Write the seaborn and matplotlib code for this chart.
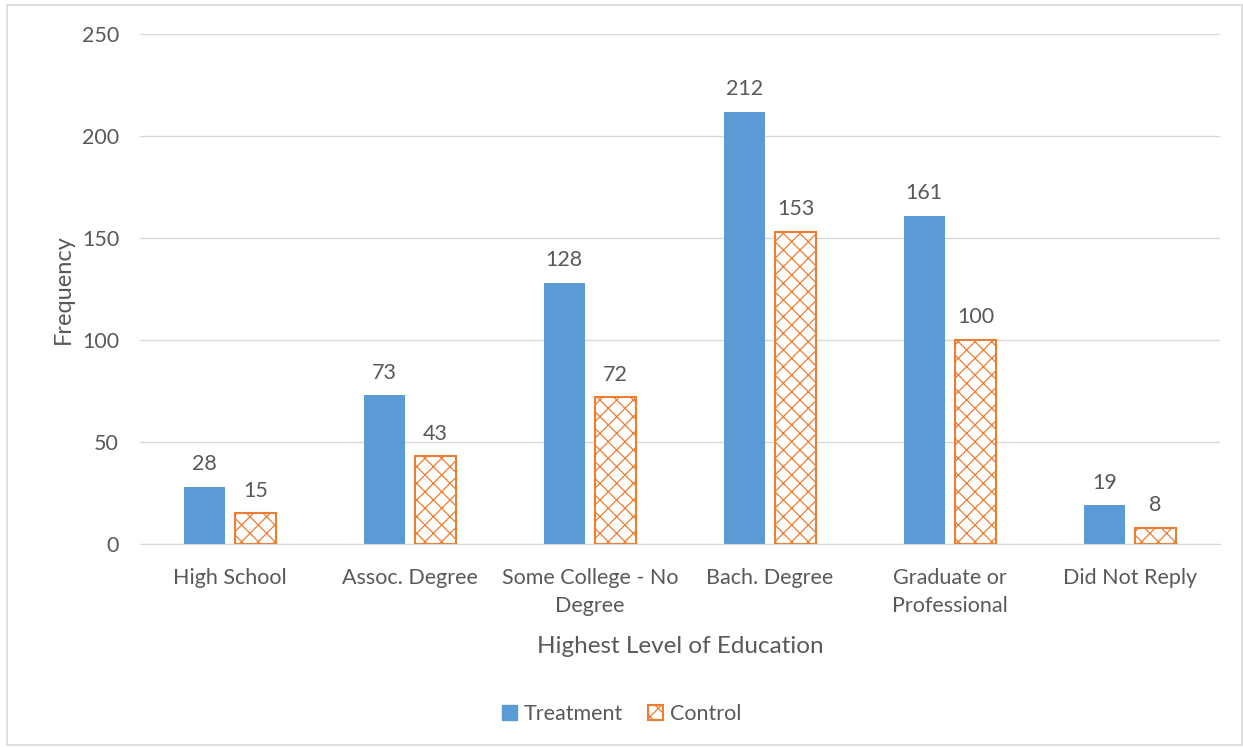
import pandas as pd
import matplotlib.pyplot as plt
import seaborn as sns
from matplotlib.patches import Patch, Rectangle

# Data
categories = ["High School", "Assoc. Degree", "Some College - No\nDegree",
              "Bach. Degree", "Graduate or\nProfessional", "Did Not Reply"]
treatment = [28, 73, 128, 212, 161, 19]
control = [15, 43, 72, 153, 100, 8]
groups = ["Treatment", "Control"]

blue = "#5B9BD5"
orange = "#ED7D31"
grey_text = "#595959"

df = pd.DataFrame({
    "category": categories * 2,
    "value": treatment + control,
    "group": ["Treatment"] * len(categories) + ["Control"] * len(categories),
})

sns.set_style("white")
plt.rcParams["font.family"] = ["Lato", "DejaVu Sans"]
plt.rcParams["hatch.linewidth"] = 0.9
plt.rcParams["hatch.color"] = orange

fig = plt.figure(figsize=(12.43, 7.47), dpi=100)
ax = fig.add_axes([0.1126, 0.2718, 0.8689, 0.6827])

sns.barplot(data=df, x="category", y="value", hue="group", hue_order=groups,
            palette={"Treatment": blue, "Control": "white"},
            width=0.57, gap=0.2, ax=ax, legend=False, saturation=1)

# style the control bars: white fill, orange outline with hatch
for bar in ax.containers[1]:
    bar.set_edgecolor(orange)
    bar.set_linewidth(1.5)
    bar.set_hatch("xx")
for bar in ax.containers[0]:
    bar.set_linewidth(0)

for cont in ax.containers:
    ax.bar_label(cont, padding=9, fontsize=15.5, color=grey_text)

ax.set_ylim(0, 250)
ax.set_yticks(range(0, 251, 50))
ax.grid(axis="y", color="#D9D9D9", linewidth=1)
ax.set_axisbelow(True)
for side in ["top", "right", "left"]:
    ax.spines[side].set_visible(False)
ax.spines["bottom"].set_color("#D9D9D9")
ax.tick_params(axis="both", length=0, labelsize=15.5, colors=grey_text)
ax.tick_params(axis="y", pad=15)
ax.tick_params(axis="x", pad=17)
for lbl in ax.get_xticklabels():
    lbl.set_linespacing(1.55)
ax.set_xlabel("Highest Level of Education", fontsize=17.5, color=grey_text, labelpad=14)
ax.set_ylabel("Frequency", fontsize=17, color=grey_text, labelpad=6)

handles = [Patch(facecolor=blue, edgecolor=blue),
           Patch(facecolor="white", edgecolor=orange, hatch="xx", linewidth=1.5)]
fig.legend(handles, groups, loc="center", bbox_to_anchor=(0.5, 0.044), ncol=2,
           frameon=False, fontsize=15.5, labelcolor=grey_text,
           handlelength=0.7, handleheight=0.7, handletextpad=0.3, columnspacing=1.2)

# light outer border like the chart area frame
fig.patches.append(Rectangle((0.006, 0.003), 0.993, 0.99, transform=fig.transFigure,
                             fill=False, edgecolor="#D9D9D9", linewidth=1.2))

fig.savefig("out.png", dpi=100)
